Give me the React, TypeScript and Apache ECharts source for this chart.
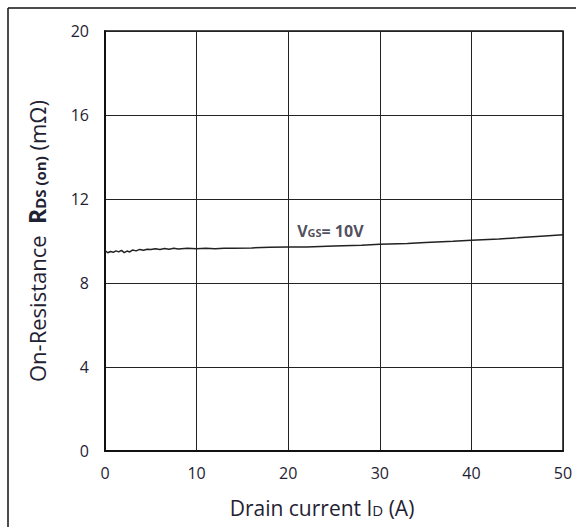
import React, { useEffect, useRef } from "react";
import * as echarts from "echarts";

const currentA = [0, 0.3, 0.6, 0.9, 1.2, 1.5, 1.8, 2.1, 2.4, 2.7, 3, 3.4, 3.8, 4.2, 4.6, 5, 5.5, 6, 6.5, 7, 7.5, 8, 9, 10, 11, 12, 13, 14, 16, 18, 20, 22, 25, 28, 30, 33, 35, 38, 40, 43, 45, 48, 50];
const rdsOn = [9.55, 9.44, 9.5, 9.46, 9.53, 9.48, 9.55, 9.45, 9.52, 9.48, 9.57, 9.53, 9.6, 9.56, 9.61, 9.59, 9.63, 9.6, 9.64, 9.61, 9.65, 9.62, 9.66, 9.63, 9.65, 9.63, 9.66, 9.65, 9.67, 9.7, 9.71, 9.72, 9.76, 9.8, 9.84, 9.88, 9.93, 9.99, 10.04, 10.1, 10.15, 10.24, 10.3];
const xTicks = [0, 10, 20, 30, 40, 50];
const yTicks = [0, 4, 8, 12, 16, 20];
const labelPos = [24.6, 10.5];

export default function App() {
  const ref = useRef<HTMLDivElement>(null);
  useEffect(() => {
    if (!ref.current) return;
    const chart = echarts.init(ref.current, null, { renderer: "svg" });
    const font = "'Open Sans', sans-serif";
    const txt = "#1f2233";
    chart.setOption({
      animation: false,
      backgroundColor: "#ffffff",
      grid: { left: 105, top: 31, right: 13, bottom: 76, show: true, borderColor: "#111", borderWidth: 1.5 },
      xAxis: {
        type: "value",
        min: xTicks[0],
        max: xTicks[xTicks.length - 1],
        interval: 10,
        name: "Drain current {i|I}{d|D} (A)",
        nameLocation: "middle",
        nameGap: 46,
        nameTextStyle: {
          fontFamily: font, fontSize: 21, color: txt, padding: [0, 24, 0, 0],
          rich: {
            i: { fontFamily: font, fontSize: 21, color: txt },
            d: { fontFamily: font, fontSize: 15, color: txt, padding: [5, 0, 0, 0] },
          },
        },
        axisLine: { show: true, lineStyle: { color: "#111", width: 2 } },
        axisTick: { show: false },
        axisLabel: { fontFamily: font, fontSize: 16, fontWeight: 500, color: txt, margin: 14 },
        splitLine: { show: true, lineStyle: { color: "#222", width: 1 } },
      },
      yAxis: {
        type: "value",
        min: yTicks[0],
        max: yTicks[yTicks.length - 1],
        interval: 4,
        name: "On-Resistance  {r|R}{s|DS (on)} (mΩ)",
        nameLocation: "middle",
        nameGap: 57,
        nameRotate: 90,
        nameTextStyle: {
          fontFamily: font, fontSize: 22, color: txt,
          rich: {
            r: { fontFamily: font, fontSize: 23, fontWeight: "bold", color: txt },
            s: { fontFamily: font, fontSize: 15, fontWeight: "bold", color: txt, padding: [7, 0, 0, 0] },
          },
        },
        axisLine: { show: true, lineStyle: { color: "#111", width: 2 } },
        axisTick: { show: false },
        axisLabel: { fontFamily: font, fontSize: 16, fontWeight: 500, color: txt, margin: 16 },
        splitLine: { show: true, lineStyle: { color: "#222", width: 1 } },
      },
      series: [
        {
          type: "line",
          data: currentA.map((x, i) => [x, rdsOn[i]]),
          showSymbol: false,
          lineStyle: { color: "#222", width: 1.5 },
        },
        {
          type: "scatter",
          data: [labelPos],
          symbolSize: 0,
          label: {
            show: true,
            position: "inside",
            formatter: "{v|V}{g|GS}{v|= 10V}",
            rich: {
              v: { fontFamily: font, fontSize: 16, fontWeight: "bold", color: txt },
              g: { fontFamily: font, fontSize: 11, fontWeight: "bold", color: txt, padding: [4, 0, 0, 0] },
            },
          },
        },
      ],
      graphic: [
        { type: "line", shape: { x1: 8, y1: 8, x2: 576, y2: 8 }, style: { stroke: "#111", lineWidth: 1.5 } },
        { type: "line", shape: { x1: 8, y1: 8, x2: 8, y2: 527 }, style: { stroke: "#111", lineWidth: 1.5 } },
      ],
    });
    return () => chart.dispose();
  }, []);
  return <div ref={ref} style={{ position: "absolute", left: 0, top: 0, width: 576, height: 527 }} />;
}
